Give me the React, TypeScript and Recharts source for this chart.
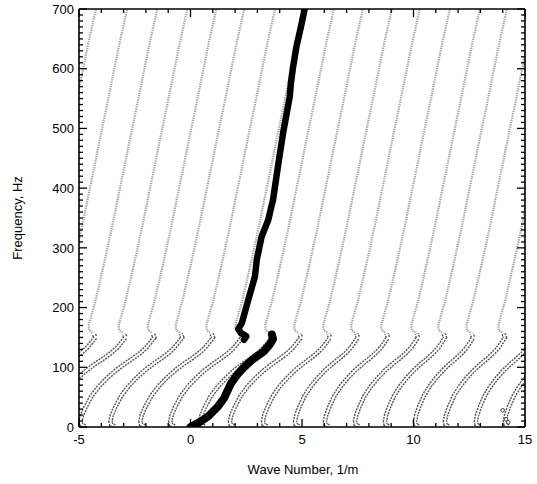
import React from 'react';
import { ComposedChart, Line, XAxis, YAxis } from 'recharts';

// ---- axis ticks ----
const xTicks = [-5, -4, -3, -2, -1, 0, 1, 2, 3, 4, 5, 6, 7, 8, 9, 10, 11, 12, 13, 14, 15];
const xLabelTicks = [-5, 0, 5, 10, 15];
const yTicks = Array.from({ length: 71 }, (_, i) => i * 10);
const yLabelTicks = [0, 100, 200, 300, 400, 500, 600, 700];

// ---- gray measured branches ----
// bottom (start of the lower branch near 0 Hz) and kink (end of lower branch near 150 Hz), 1/m
const branchBottoms = [-10.3, -8.95, -7.6, -6.27, -4.93, -3.59, -2.25, -0.91, 0.43, 1.77, 3.25, 4.69, 6.03, 7.38, 8.72, 10.07, 11.41, 12.8, 14.1];
const branchKinks = [-7.02, -5.62, -4.27, -2.92, -1.62, -0.37, 1.01, 2.31, 3.65, 4.95, 6.25, 7.5, 8.85, 10.2, 11.41, 12.67, 14.1, 15.4, 16.7];

// lower branch shape: u = 0 at bottom, 1 at kink; f in Hz
const lowerShape = [
  { u: 0.06, f: 1 }, { u: 0.01, f: 4 }, { u: 0.0, f: 10 }, { u: 0.02, f: 20 }, { u: 0.07, f: 34 },
  { u: 0.15, f: 52 }, { u: 0.25, f: 68 }, { u: 0.36, f: 82 }, { u: 0.48, f: 95 }, { u: 0.6, f: 106 },
  { u: 0.71, f: 115 }, { u: 0.81, f: 124 }, { u: 0.89, f: 133 }, { u: 0.95, f: 142 }, { u: 1.0, f: 150 },
  { u: 0.98, f: 156 },
];
// upper branch shape: dx measured from the kink; f in Hz
const upperShape = [
  { dx: -0.12, f: 158 }, { dx: -0.28, f: 162 }, { dx: -0.3, f: 170 }, { dx: -0.2, f: 184 }, { dx: 0.0, f: 210 },
  { dx: 0.25, f: 250 }, { dx: 0.5, f: 292 }, { dx: 0.78, f: 340 }, { dx: 1.05, f: 390 }, { dx: 1.33, f: 440 },
  { dx: 1.6, f: 490 }, { dx: 1.88, f: 540 }, { dx: 2.15, f: 590 }, { dx: 2.45, f: 645 }, { dx: 2.78, f: 700 },
  { dx: 2.85, f: 712 },
];

// ---- black highlighted branch ----
const blackLowerK = [0, 0.4, 0.8, 1.2, 1.5, 1.8, 2.1, 2.4, 2.75, 3.0, 3.3, 3.55, 3.7, 3.65];
const blackLowerF = [0, 8, 18, 33, 48, 72, 88, 100, 112, 119, 127, 138, 147, 155];
const blackUpperK = [2.4, 2.5, 2.25, 2.14, 2.3, 2.59, 2.89, 2.97, 3.19, 3.49, 3.6, 3.7, 3.92, 4.15, 4.45, 4.5, 4.6, 4.75, 4.95, 5.12];
const blackUpperF = [146, 152, 158, 164, 174, 213, 252, 280, 319, 347, 365, 380, 436, 492, 553, 575, 603, 637, 670, 700];

// ---- stray points near the lower right ----
const strayK = [14.0, 14.15, 14.25];
const strayF = [28, 13, 8];

const lowerData = branchBottoms.map((b, i) =>
  lowerShape.map((p) => ({ x: b + p.u * (branchKinks[i] - b), y: p.f }))
);
const upperData = branchKinks.map((k) => upperShape.map((p) => ({ x: k + p.dx, y: p.f })));
const blackLower = blackLowerK.map((k, i) => ({ x: k, y: blackLowerF[i] }));
const blackUpper = blackUpperK.map((k, i) => ({ x: k, y: blackUpperF[i] }));
const stray = strayK.map((k, i) => ({ x: k, y: strayF[i] }));

const FONT = '"Liberation Sans", Arial, Helvetica, sans-serif';

const BottomTick = (props: any) => {
  const { x, y, payload } = props;
  const v = payload.value;
  const major = xLabelTicks.includes(v);
  return (
    <g>
      <line x1={x} x2={x} y1={y} y2={y - (major ? 8 : 4)} stroke="#000" strokeWidth={1.3} />
      {major && (
        <text x={x} y={y + 17} textAnchor="middle" fontSize={13} fontFamily={FONT} fill="#000">
          {String(v)}
        </text>
      )}
    </g>
  );
};
const TopTick = (props: any) => {
  const { x, y, payload } = props;
  const major = xLabelTicks.includes(payload.value);
  return <line x1={x} x2={x} y1={y} y2={y + (major ? 8 : 4)} stroke="#000" strokeWidth={1.3} />;
};
const LeftTick = (props: any) => {
  const { x, y, payload } = props;
  const v = payload.value;
  const major = yLabelTicks.includes(v);
  return (
    <g>
      <line x1={x} x2={x + (major ? 8 : 4)} y1={y} y2={y} stroke="#000" strokeWidth={1.3} />
      {major && (
        <text x={x - 5} y={y} dy="0.36em" textAnchor="end" fontSize={13} fontFamily={FONT} fill="#000">
          {String(v)}
        </text>
      )}
    </g>
  );
};
const RightTick = (props: any) => {
  const { x, y, payload } = props;
  const major = yLabelTicks.includes(payload.value);
  return <line x1={x} x2={x - (major ? 8 : 4)} y1={y} y2={y} stroke="#000" strokeWidth={1.3} />;
};

const XTitle = () => (
  <text x={303} y={474} textAnchor="middle" fontSize={13} fontFamily={FONT} fill="#000">
    Wave Number, 1/m
  </text>
);
const YTitle = () => (
  <text x={22} y={218} textAnchor="middle" fontSize={13} fontFamily={FONT} fill="#000" transform="rotate(-90 22 218)">
    Frequency, Hz
  </text>
);

const axisLine = { stroke: '#000', strokeWidth: 1.6 };

export default function App() {
  return (
    <div style={{ position: 'absolute', left: 0, top: 0, width: 537, height: 484, background: '#fff' }}>
      <ComposedChart width={537} height={484} margin={{ top: 8, right: 11, bottom: 56, left: 78 }}>
        <XAxis
          dataKey="x"
          type="number"
          domain={[-5, 15]}
          allowDataOverflow
          ticks={xTicks}
          interval={0}
          tickSize={0}
          tickMargin={0}
          tickLine={false}
          height={1}
          axisLine={axisLine}
          tick={<BottomTick />}
          label={<XTitle />}
        />
        <XAxis
          xAxisId="top"
          orientation="top"
          dataKey="x"
          type="number"
          domain={[-5, 15]}
          allowDataOverflow
          ticks={xTicks}
          interval={0}
          tickSize={0}
          tickMargin={0}
          tickLine={false}
          height={1}
          axisLine={axisLine}
          tick={<TopTick />}
        />
        <YAxis
          dataKey="y"
          type="number"
          domain={[0, 700]}
          allowDataOverflow
          ticks={yTicks}
          interval={0}
          tickSize={0}
          tickMargin={0}
          tickLine={false}
          width={1}
          axisLine={axisLine}
          tick={<LeftTick />}
          label={<YTitle />}
        />
        <YAxis
          yAxisId="right"
          orientation="right"
          dataKey="y"
          type="number"
          domain={[0, 700]}
          allowDataOverflow
          ticks={yTicks}
          interval={0}
          tickSize={0}
          tickMargin={0}
          tickLine={false}
          width={1}
          axisLine={axisLine}
          tick={<RightTick />}
        />
        {upperData.map((d, i) => (
          <Line key={'u' + i} data={d} dataKey="y" type="linear" stroke="#a3a3a3" strokeWidth={2.2}
            strokeDasharray="1.3 1" dot={false} activeDot={false} isAnimationActive={false} />
        ))}
        {lowerData.map((d, i) => (
          <Line key={'lo' + i} data={d} dataKey="y" type="linear" stroke="#555" strokeWidth={4.6}
            strokeDasharray="2 1" dot={false} activeDot={false} isAnimationActive={false} />
        ))}
        {lowerData.map((d, i) => (
          <Line key={'li' + i} data={d} dataKey="y" type="linear" stroke="#fff" strokeWidth={1.8}
            dot={false} activeDot={false} isAnimationActive={false} />
        ))}
        <Line data={blackLower} dataKey="y" type="linear" stroke="#000" strokeWidth={8}
          strokeLinecap="round" strokeLinejoin="round" dot={false} activeDot={false} isAnimationActive={false} />
        <Line data={blackUpper} dataKey="y" type="linear" stroke="#000" strokeWidth={6.5}
          strokeLinecap="round" strokeLinejoin="round" dot={false} activeDot={false} isAnimationActive={false} />
        <Line data={stray} dataKey="y" type="linear" stroke="none"
          dot={{ r: 1.8, fill: '#fff', stroke: '#444', strokeWidth: 1 }} activeDot={false} isAnimationActive={false} />
      </ComposedChart>
    </div>
  );
}
